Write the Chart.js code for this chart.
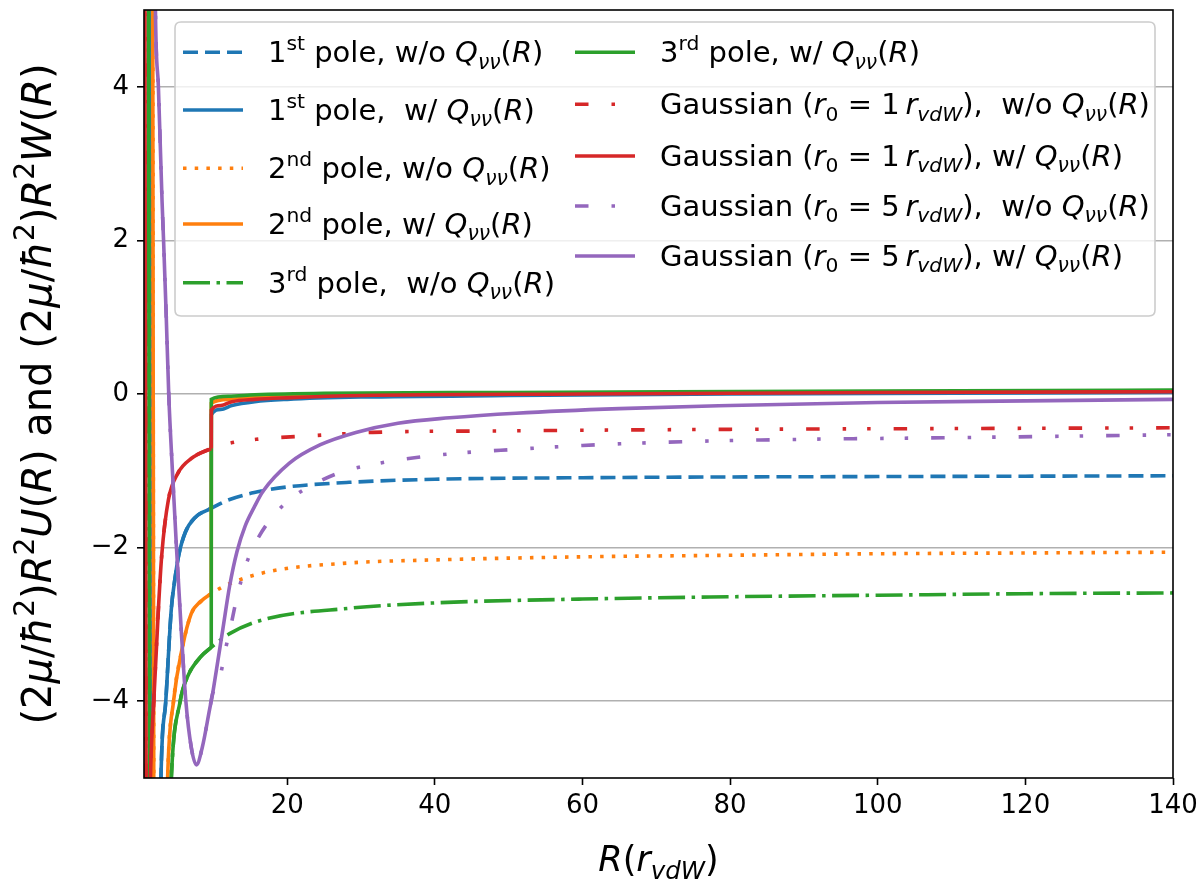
<!DOCTYPE html>
<html>
<head>
<meta charset="utf-8">
<title>Potentials vs R</title>
<script src="https://cdn.jsdelivr.net/npm/chart.js"></script>
<style>
    body { margin: 0; padding: 0; background: #fff; }
    #chart { display: block; }
</style>
</head>
<body>
<canvas id="chart" width="1200" height="879"></canvas>
<script>

    // tick values
    var xTicks = [20, 40, 60, 80, 100, 120, 140];
    var yTicks = [-4, -2, 0, 2, 4];

    // legend / series labels ($..$ = math, ^{} sup, _{} sub)
    var seriesLabels = [
        '1^{st} pole, w/o $Q_{νν}(R)$',
        '1^{st} pole,  w/ $Q_{νν}(R)$',
        '2^{nd} pole, w/o $Q_{νν}(R)$',
        '2^{nd} pole, w/ $Q_{νν}(R)$',
        '3^{rd} pole,  w/o $Q_{νν}(R)$',
        '3^{rd} pole, w/ $Q_{νν}(R)$',
        'Gaussian ($r_{0} = 1\u2009r_{vdW}$),  w/o $Q_{νν}(R)$',
        'Gaussian ($r_{0} = 1\u2009r_{vdW}$), w/ $Q_{νν}(R)$',
        'Gaussian ($r_{0} = 5\u2009r_{vdW}$),  w/o $Q_{νν}(R)$',
        'Gaussian ($r_{0} = 5\u2009r_{vdW}$), w/ $Q_{νν}(R)$'
    ];
    var xTitle = '$R(r_{vdW})$';
    var yTitle = '$(2μ/ħ^{2})R^{2}U(R)$ and $(2μ/ħ^{2})R^{2}W(R)$';

    // [R, value] — inner part (same with and without Q) and outer parts
    var pole1Near = [[1.3,14],[1.5,5],[1.65,-5],[1.9,-11],[2.5,-8],[2.9,-5],[3.55,-4],[4.3,-2.8],[4.8,-2.4],[5.3,-2.1],[6.2,-1.8],[7.5,-1.61],[9.7,-1.49]];
    var pole1WithoutFar = [[12,-1.38],[16.7,-1.26],[20,-1.21],[28.4,-1.15],[40,-1.11],[60,-1.09],[80,-1.08],[100,-1.075],[120,-1.07],[140,-1.065]];
    var pole1WithFar = [[9.72,-0.27],[11,-0.2],[12.5,-0.15],[15.6,-0.1],[20,-0.07],[30,-0.04],[50,-0.02],[80,0.0],[140,0.02]];

    var pole2Near = [[1.5,14],[1.78,5],[1.92,-5],[2.2,-12],[3.2,-8],[3.8,-5],[4.6,-4],[5.8,-3.3],[7.0,-2.86],[8.3,-2.7],[9.7,-2.6]];
    var pole2WithoutFar = [[12.2,-2.47],[17.6,-2.31],[28.4,-2.2],[40,-2.16],[60,-2.12],[80,-2.1],[100,-2.08],[120,-2.07],[140,-2.06]];
    var pole2WithFar = [[9.72,-0.12],[12,-0.07],[15.6,-0.04],[25,-0.01],[40,0.0],[70,0.02],[100,0.03],[140,0.04]];

    var pole3Near = [[1.0,14],[1.2,5],[1.35,-5],[1.6,-12],[3.0,-10],[3.7,-7],[4.3,-5],[5.5,-4],[6.5,-3.68],[8.3,-3.42],[9.7,-3.3]];
    var pole3WithoutFar = [[12.2,-3.12],[16.7,-2.94],[28.4,-2.79],[40,-2.72],[60,-2.67],[80,-2.64],[100,-2.62],[120,-2.6],[140,-2.59]];
    var pole3WithFar = [[9.72,-0.07],[12,-0.03],[15.6,-0.01],[25,0.01],[50,0.02],[100,0.04],[140,0.05]];

    var gauss1Near = [[0.6,10],[0.72,5],[0.88,-5],[1.0,-9],[1.2,-6.5],[1.5,-4.9],[1.95,-3.95],[2.55,-2.8],[3.0,-2.1],[3.9,-1.38],[5.2,-1.03],[7.0,-0.84],[9.7,-0.71]];
    var gauss1WithoutFar = [[12.2,-0.64],[15.8,-0.59],[23.9,-0.54],[31.6,-0.5],[50,-0.48],[80,-0.46],[110,-0.45],[140,-0.44]];
    var gauss1WithFar = [[9.72,-0.21],[11,-0.15],[12.5,-0.1],[15.6,-0.07],[20,-0.05],[30,-0.02],[60,0.0],[100,0.02],[140,0.03]];

    var gauss5Near = [[1.9,8],[2.15,5],[2.55,4],[3.05,2.5],[3.25,2],[3.6,1.05],[3.95,0],[4.45,-1],[5.0,-2],[5.6,-3],[6.27,-4],[7.0,-4.6],[7.7,-4.83],[8.5,-4.6],[9.5,-4.1],[9.9,-3.9]];
    var gauss5WithoutFar = [[10.6,-3.8],[11.2,-3.55],[11.7,-3.3],[12.4,-3.0],[13.3,-2.6],[14.5,-2.2],[15.8,-1.92],[18,-1.6],[20.8,-1.34],[23.9,-1.16],[27.5,-1.01],[31.5,-0.92],[35,-0.86],[42,-0.78],[51,-0.72],[60,-0.67],[74,-0.62],[90,-0.59],[109,-0.57],[125,-0.55],[140,-0.53]];
    var gauss5WithFar = [[10.4,-3.6],[11.3,-3.05],[12.2,-2.5],[13.2,-2.05],[14.3,-1.72],[15.5,-1.48],[16.7,-1.27],[20.3,-0.9],[24.5,-0.66],[29.3,-0.5],[35,-0.38],[42,-0.31],[51,-0.25],[65,-0.19],[80,-0.15],[100,-0.11],[120,-0.09],[140,-0.07]];

    var colors = {
        blue: '#1f77b4',
        orange: '#ff7f0e',
        green: '#2ca02c',
        red: '#d62728',
        purple: '#9467bd'
    };

    var dashes = {
        solid: [],
        dashed: [15, 7],
        dotted: [3.5, 8.2],
        dashdot: [27, 6.5, 3.5, 6.5],
        gauss: [13.5, 23, 3.5, 21, 3.5, 23]
    };

    var LW = 3.6;

    // step: the curve jumps right after the inner part (break the spline there)
    var series = [
        { color: colors.blue,   dash: dashes.dashed,  near: pole1Near,  far: pole1WithoutFar },
        { color: colors.blue,   dash: dashes.solid,   near: pole1Near,  far: pole1WithFar, step: true },
        { color: colors.orange, dash: dashes.dotted,  near: pole2Near,  far: pole2WithoutFar },
        { color: colors.orange, dash: dashes.solid,   near: pole2Near,  far: pole2WithFar, step: true },
        { color: colors.green,  dash: dashes.dashdot, near: pole3Near,  far: pole3WithoutFar },
        { color: colors.green,  dash: dashes.solid,   near: pole3Near,  far: pole3WithFar, step: true },
        { color: colors.red,    dash: dashes.gauss,   near: gauss1Near, far: gauss1WithoutFar },
        { color: colors.red,    dash: dashes.solid,   near: gauss1Near, far: gauss1WithFar, step: true },
        { color: colors.purple, dash: dashes.gauss,   near: gauss5Near, far: gauss5WithoutFar },
        { color: colors.purple, dash: dashes.solid,   near: gauss5Near, far: gauss5WithFar }
    ];

    var FONT = '"DejaVu Sans", sans-serif';

    // --- tiny mathtext-ish rich text ---
    function parseRich(s) {
        var runs = [];
        var math = false;
        function push(ch, italic, shift) {
            var last = runs[runs.length - 1];
            if (last && last.italic === italic && last.shift === shift) {
                last.t += ch;
            } else {
                runs.push({ t: ch, italic: italic, shift: shift });
            }
        }
        function isLetter(ch) { return /\p{L}/u.test(ch); }
        var i = 0;
        while (i < s.length) {
            var c = s[i];
            if (c === '$') { math = !math; i++; continue; }
            if ((c === '^' || c === '_') && s[i + 1] === '{') {
                var j = s.indexOf('}', i);
                var inner = s.slice(i + 2, j);
                for (var k = 0; k < inner.length; k++) {
                    push(inner[k], math && isLetter(inner[k]), c === '^' ? 'sup' : 'sub');
                }
                i = j + 1;
                continue;
            }
            push(c, math && isLetter(c), null);
            i++;
        }
        return runs;
    }

    function runFont(run, size) {
        var sz = run.shift ? size * 0.7 : size;
        return (run.italic ? 'italic ' : '') + sz + 'px ' + FONT;
    }

    function drawRich(ctx, markup, x, y, size, align) {
        var runs = parseRich(markup);
        var total = 0;
        runs.forEach(function(r) {
            ctx.font = runFont(r, size);
            r.w = ctx.measureText(r.t).width;
            total += r.w;
        });
        var cx = align === 'center' ? x - total / 2 : x;
        ctx.textBaseline = 'alphabetic';
        ctx.textAlign = 'left';
        runs.forEach(function(r) {
            ctx.font = runFont(r, size);
            var dy = 0;
            if (r.shift === 'sup') dy = -0.42 * size;
            if (r.shift === 'sub') dy = 0.22 * size;
            ctx.fillText(r.t, cx, y + dy);
            cx += r.w;
        });
    }

    function roundRect(ctx, x, y, w, h, r) {
        ctx.beginPath();
        ctx.moveTo(x + r, y);
        ctx.lineTo(x + w - r, y);
        ctx.quadraticCurveTo(x + w, y, x + w, y + r);
        ctx.lineTo(x + w, y + h - r);
        ctx.quadraticCurveTo(x + w, y + h, x + w - r, y + h);
        ctx.lineTo(x + r, y + h);
        ctx.quadraticCurveTo(x, y + h, x, y + h - r);
        ctx.lineTo(x, y + r);
        ctx.quadraticCurveTo(x, y, x + r, y);
        ctx.closePath();
    }

    // frame, legend and axis titles
    var decorPlugin = {
        id: 'decor',
        afterDatasetsDraw: function(chart) {
            var ctx = chart.ctx;
            var a = chart.chartArea;
            ctx.save();

            // spines
            ctx.strokeStyle = '#000';
            ctx.lineWidth = 1.6;
            ctx.setLineDash([]);
            ctx.strokeRect(a.left, a.top, a.right - a.left, a.bottom - a.top);

            // legend box
            roundRect(ctx, 175, 22, 980, 294, 6);
            ctx.fillStyle = 'rgba(255,255,255,0.8)';
            ctx.fill();
            ctx.strokeStyle = '#cccccc';
            ctx.lineWidth = 1.6;
            ctx.stroke();

            var cols = [
                { x1: 183, x2: 243, tx: 268, rows: [52.3, 110, 168.3, 224, 282.7] },
                { x1: 575, x2: 635, tx: 660, rows: [52.3, 104.3, 156, 206, 256] }
            ];
            series.forEach(function(s, i) {
                var col = cols[Math.floor(i / 5)];
                var yy = col.rows[i % 5];
                ctx.beginPath();
                ctx.setLineDash(s.dash);
                ctx.lineDashOffset = 0;
                ctx.lineCap = 'butt';
                ctx.strokeStyle = s.color;
                ctx.lineWidth = LW;
                ctx.moveTo(col.x1, yy);
                ctx.lineTo(col.x2, yy);
                ctx.stroke();
                ctx.setLineDash([]);
                ctx.fillStyle = '#000';
                drawRich(ctx, seriesLabels[i], col.tx, yy + 10, 29, 'left');
            });
            ctx.restore();
        },
        afterDraw: function(chart) {
            var ctx = chart.ctx;
            var a = chart.chartArea;
            ctx.save();
            ctx.fillStyle = '#000';
            drawRich(ctx, xTitle, (a.left + a.right) / 2, 871, 35, 'center');
            ctx.translate(51, (a.top + a.bottom) / 2);
            ctx.rotate(-Math.PI / 2);
            drawRich(ctx, yTitle, 0, 0, 40, 'center');
            ctx.restore();
        }
    };

    Chart.defaults.font.family = FONT;
    Chart.defaults.color = '#000';

    var datasets = series.map(function(s, i) {
        var pts = s.near.map(function(p) { return { x: p[0], y: p[1] }; });
        if (s.step) {
            // break the line so the spline does not bend into the jump
            var last = s.near[s.near.length - 1];
            pts.push({ x: last[0] + 0.005, y: null });
            pts.push({ x: last[0] + 0.01, y: last[1] });
        }
        s.far.forEach(function(p) { pts.push({ x: p[0], y: p[1] }); });
        return {
            label: seriesLabels[i],
            data: pts,
            borderColor: s.color,
            backgroundColor: s.color,
            borderWidth: LW,
            borderDash: s.dash,
            borderCapStyle: 'butt',
            pointRadius: 0,
            fill: false,
            spanGaps: false,
            cubicInterpolationMode: 'monotone',
            clip: 0,
            order: series.length - i
        };
    });

    var config = {
        type: 'line',
        data: { datasets: datasets },
        options: {
            responsive: false,
            animation: false,
            devicePixelRatio: 1,
            layout: { padding: { left: 0, top: 10, right: 27, bottom: 0 } },
            plugins: {
                legend: { display: false },
                tooltip: { enabled: false }
            },
            scales: {
                x: {
                    type: 'linear',
                    min: 0.6,
                    max: 140,
                    afterBuildTicks: function(scale) {
                        scale.ticks = xTicks.map(function(v) { return { value: v }; });
                    },
                    afterFit: function(scale) {
                        scale.height = 101;
                        scale.paddingLeft = 0;
                        scale.paddingRight = 0;
                    },
                    ticks: {
                        font: { size: 26 },
                        color: '#000',
                        padding: 6,
                        maxRotation: 0,
                        autoSkip: false
                    },
                    grid: {
                        drawOnChartArea: false,
                        tickLength: 7,
                        tickColor: '#000',
                        tickWidth: 1.6
                    },
                    border: { display: false }
                },
                y: {
                    type: 'linear',
                    min: -5,
                    max: 5,
                    afterBuildTicks: function(scale) {
                        scale.ticks = yTicks.map(function(v) { return { value: v }; });
                    },
                    afterFit: function(scale) {
                        scale.width = 144;
                        scale.paddingTop = 0;
                        scale.paddingBottom = 0;
                    },
                    ticks: {
                        font: { size: 26 },
                        color: '#000',
                        padding: 8,
                        callback: function(v) { return v < 0 ? '\u2212' + Math.abs(v) : String(v); }
                    },
                    grid: {
                        color: '#b0b0b0',
                        lineWidth: 1.6,
                        tickLength: 7,
                        tickColor: '#000',
                        tickWidth: 1.6
                    },
                    border: { display: false }
                }
            }
        },
        plugins: [decorPlugin]
    };

    var myChart = new Chart(document.getElementById('chart'), config);

</script>
</body>
</html>
